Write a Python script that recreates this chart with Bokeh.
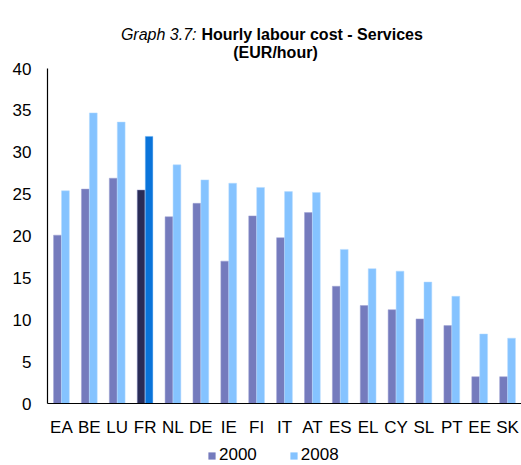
from bokeh.plotting import figure
from bokeh.models import ColumnDataSource, Label, Legend, LegendItem, FactorRange, Range1d
from bokeh.layouts import column
from bokeh.transform import dodge
from bokeh.embed import file_html
from bokeh.resources import INLINE

categories = ["EA", "BE", "LU", "FR", "NL", "DE", "IE", "FI", "IT", "AT",
              "ES", "EL", "CY", "SL", "PT", "EE", "SK"]
values_2000 = [20.1, 25.6, 26.9, 25.5, 22.3, 23.9, 17.0, 22.4, 19.8, 22.8,
               14.0, 11.7, 11.2, 10.1, 9.3, 3.2, 3.2]
values_2008 = [25.4, 34.7, 33.6, 31.9, 28.5, 26.7, 26.3, 25.8, 25.3, 25.2,
               18.4, 16.1, 15.8, 14.5, 12.8, 8.3, 7.8]
y_ticks = [0, 5, 10, 15, 20, 25, 30, 35, 40]
series = ["2000", "2008"]

C2000, C2008 = "#757BBD", "#85C3FF"
FR2000, FR2008 = "#2A2C57", "#0A74DA"
FONT = "Liberation Sans"

src = ColumnDataSource(dict(
    cat=categories,
    v2000=values_2000,
    v2008=values_2008,
    c2000=[FR2000 if c == "FR" else C2000 for c in categories],
    c2008=[FR2008 if c == "FR" else C2008 for c in categories],
))

# main chart: y range above 40 leaves room for the two-line title inside the frame
p = figure(width=521, height=440, x_range=FactorRange(*categories), y_range=Range1d(0, 48.12),
           output_backend="svg", toolbar_location=None,
           min_border_left=47, min_border_right=0, min_border_top=0, min_border_bottom=37)
p.outline_line_color = None
p.xgrid.grid_line_color = None
p.ygrid.grid_line_color = None
p.x_range.range_padding = 0

p.vbar(x=dodge("cat", -0.143, range=p.x_range), top="v2000", width=0.28,
       source=src, fill_color="c2000", line_color="#9EA2D4", line_width=0.5)
p.vbar(x=dodge("cat", 0.143, range=p.x_range), top="v2008", width=0.28,
       source=src, fill_color="c2008", line_color="#B5DAFF", line_width=0.5)

for ax in (p.xaxis[0], p.yaxis[0]):
    ax.axis_line_color = "black"
    ax.axis_line_width = 1.2
    ax.major_tick_line_color = None
    ax.minor_tick_line_color = None
    ax.major_label_text_font = FONT
    ax.major_label_text_font_size = "17px"
    ax.major_label_text_color = "black"

p.yaxis.ticker = y_ticks
p.yaxis.bounds = (0, 40)
p.yaxis.major_label_standoff = 10
p.xaxis.major_label_standoff = 8

t1 = Label(x=149, y=369, x_units="screen", y_units="screen", text="Graph 3.7:",
           text_font=FONT, text_font_style="italic", text_font_size="16px",
           text_align="right", text_baseline="alphabetic", text_color="black")
t2 = Label(x=154, y=369, x_units="screen", y_units="screen", text="Hourly labour cost - Services",
           text_font=FONT, text_font_style="bold", text_font_size="16px",
           text_align="left", text_baseline="alphabetic", text_color="black")
t3 = Label(x=228, y=351, x_units="screen", y_units="screen", text="(EUR/hour)",
           text_font=FONT, text_font_style="bold", text_font_size="16px",
           text_align="center", text_baseline="alphabetic", text_color="black")
for t in (t1, t2, t3):
    p.add_layout(t)

# legend strip below the chart (its bars sit far outside its visible range)
q = figure(width=521, height=25, x_range=FactorRange(*categories), y_range=Range1d(10000, 10001),
           output_backend="svg", toolbar_location=None,
           x_axis_location=None, y_axis_location=None,
           min_border_left=0, min_border_right=0, min_border_top=0, min_border_bottom=0)
q.outline_line_color = None
q.xgrid.grid_line_color = None
q.ygrid.grid_line_color = None
g1 = q.vbar(x="cat", top="v2000", width=0.28, source=src, fill_color=C2000, line_color=None)
g2 = q.vbar(x="cat", top="v2008", width=0.28, source=src, fill_color=C2008, line_color=None)

legend = Legend(items=[LegendItem(label=series[0], renderers=[g1]),
                       LegendItem(label=series[1], renderers=[g2])],
                orientation="horizontal", location=(160, 0))
legend.label_text_font = FONT
legend.label_text_font_size = "17px"
legend.label_text_color = "black"
legend.glyph_width = 9
legend.glyph_height = 9
legend.label_standoff = 3
legend.spacing = 32
legend.padding = 0
legend.margin = 0
legend.border_line_color = None
legend.background_fill_alpha = 0
q.add_layout(legend)

open("out.html", "w").write(file_html(column(p, q, spacing=0), INLINE))
